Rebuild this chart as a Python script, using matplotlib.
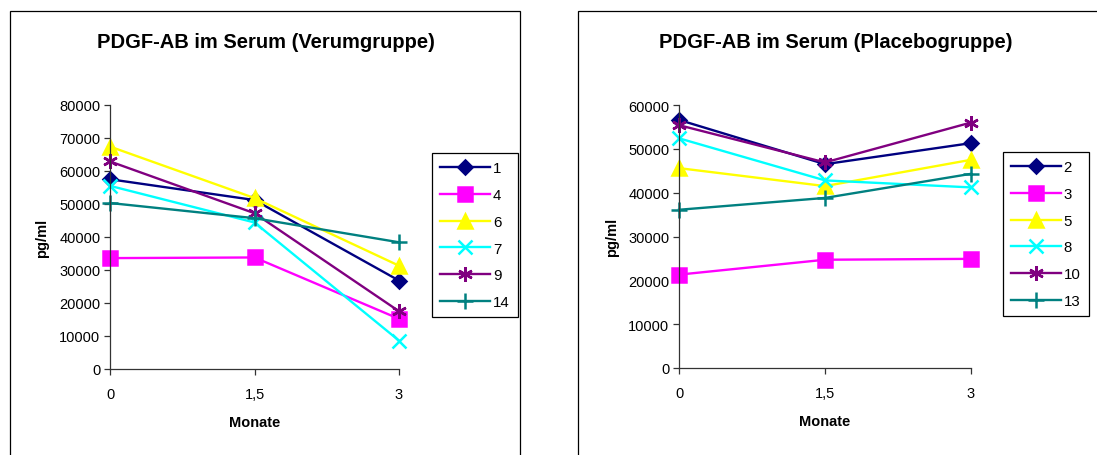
import matplotlib
matplotlib.use('Agg')
from matplotlib import pyplot as plt
from matplotlib.patches import Rectangle

plt.rcParams['font.family'] = ['Liberation Sans', 'DejaVu Sans']

# Data (pg/ml), months 0 / 1,5 / 3
months = [0, 1.5, 3]
month_labels = ['0', '1,5', '3']

verum_ids = ['1', '4', '6', '7', '9', '14']
verum_1 = [57500, 51200, 26800]
verum_4 = [33600, 33800, 15200]
verum_6 = [67400, 51800, 31300]
verum_7 = [55500, 44400, 8600]
verum_9 = [62900, 47200, 17500]
verum_14 = [50300, 45700, 38400]

placebo_ids = ['2', '3', '5', '8', '10', '13']
placebo_2 = [56600, 46500, 51300]
placebo_3 = [21300, 24700, 24900]
placebo_5 = [45600, 41500, 47500]
placebo_8 = [52400, 42800, 41200]
placebo_10 = [55400, 46900, 56000]
placebo_13 = [36100, 38800, 44300]

# Excel-style series formats (colour, marker, size)
styles = [
    ('#000080', 'D', 7),
    ('#FF00FF', 's', 10.5),
    ('#FFFF00', '^', 10.5),
    ('#00FFFF', 'x', 9.5),
    ('#800080', (6, 2, 0), 10.5),
    ('#008080', '+', 11),
]

fig = plt.figure(figsize=(10.97, 4.56), dpi=100)
W, H = 1097.0, 456.0

# chart frames
fig.add_artist(Rectangle((10 / W, -0.05), 510 / W, 1.05 - 12 / H, transform=fig.transFigure,
                         fill=False, edgecolor='black', linewidth=0.9))
fig.add_artist(Rectangle((578 / W, -0.05), 0.5, 1.05 - 12 / H, transform=fig.transFigure,
                         fill=False, edgecolor='black', linewidth=0.9))


def draw_panel(rect, ids, series, ymax, title, title_x, legend_xy, ylab_x):
    ax = fig.add_axes(rect)
    for lab, vals, (col, mk, ms) in zip(ids, series, styles):
        ax.plot(months, vals, color=col, lw=1.7, marker=mk, markersize=ms,
                markeredgewidth=1.8, markeredgecolor=col, markerfacecolor=col,
                label=lab, clip_on=False)
    ax.set_xlim(0, 3)
    ax.set_ylim(0, ymax)
    ax.set_xticks(months)
    ax.set_xticklabels(month_labels)
    ax.set_yticks(range(0, ymax + 1, 10000))
    ax.set_yticklabels([str(v) for v in range(0, ymax + 1, 10000)])
    for s in ['top', 'right']:
        ax.spines[s].set_visible(False)
    for s in ['left', 'bottom']:
        ax.spines[s].set_color('#333333')
        ax.spines[s].set_linewidth(0.9)
    ax.tick_params(axis='x', direction='out', length=4, width=0.9, pad=9, labelsize=10.5, color='#333333')
    ax.tick_params(axis='y', direction='out', length=4, width=0.9, pad=3, labelsize=10.5, color='#333333')
    ax.set_xlabel('Monate', fontsize=10.5, fontweight='bold')
    ax.xaxis.set_label_coords(0.5, -0.175)
    ax.set_ylabel('pg/ml', fontsize=10.5, fontweight='bold')
    ax.yaxis.set_label_coords(ylab_x, 0.5)
    fig.text(title_x, 1 - 43 / H, title, ha='center', va='center', fontsize=14.5, fontweight='bold')
    leg = ax.legend(loc='upper left', bbox_to_anchor=legend_xy, bbox_transform=fig.transFigure,
                    fontsize=10.8, frameon=True, fancybox=False, framealpha=1,
                    edgecolor='black', handlelength=3.3, handletextpad=0.2,
                    labelspacing=0.85, borderpad=0.55, borderaxespad=0)
    leg.get_frame().set_linewidth(0.9)
    return ax


draw_panel([110 / W, 1 - 370 / H, 289 / W, 264 / H], verum_ids,
           [verum_1, verum_4, verum_6, verum_7, verum_9, verum_14], 80000,
           'PDGF-AB im Serum (Verumgruppe)', 266 / W, (432 / W, 1 - 154 / H), -0.21)

draw_panel([679 / W, 1 - 369 / H, 292 / W, 263 / H], placebo_ids,
           [placebo_2, placebo_3, placebo_5, placebo_8, placebo_10, placebo_13], 60000,
           'PDGF-AB im Serum (Placebogruppe)', 836 / W, (1003 / W, 1 - 153 / H), -0.205)

fig.savefig('out.png', dpi=100)
